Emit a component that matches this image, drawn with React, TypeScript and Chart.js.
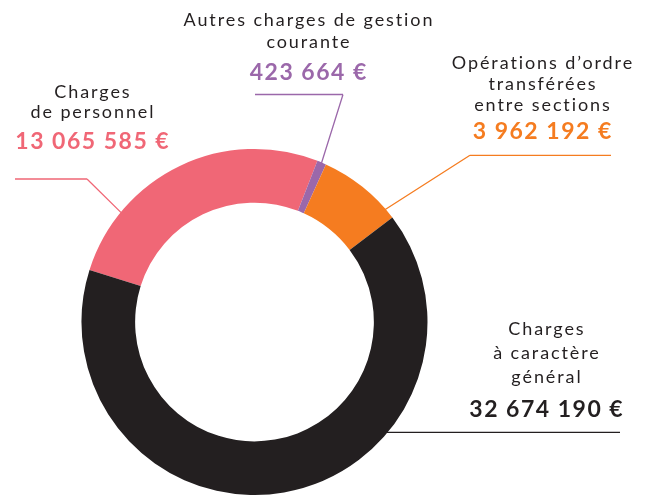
import React, { useEffect, useRef } from "react";
import { Chart, registerables } from "chart.js";

Chart.register(...registerables);

const categories = [
  "Charges de personnel",
  "Autres charges de gestion courante",
  "Opérations d’ordre transférées entre sections",
  "Charges à caractère général",
];
const values = [13065585, 423664, 3962192, 32674190];
const valueLabels = ["13 065 585 €", "423 664 €", "3 962 192 €", "32 674 190 €"];
const labelLines = [
  ["Charges", "de personnel"],
  ["Autres charges de gestion", "courante"],
  ["Opérations d’ordre", "transférées", "entre sections"],
  ["Charges", "à caractère", "général"],
];
const colors = ["#F06776", "#9B68AA", "#F57C20", "#231F20"];

const TEXT_COLOR = "#231F20";
const REG_FONT = "18px Lato";
const BOLD_FONT = "bold 23px Lato";
const REG_SPACING = 1.9;
const BOLD_SPACING = 1.5;

// layout of annotations (positions only)
const layout = [
  { cx: 92, baselines: [97.7, 118.3], valueBase: 149, hy: 179, hx1: 15, hx2: 87, elbowX: 87, frac: 0.233 },
  { cx: 308, baselines: [25.7, 47.5], valueBase: 79.5, hy: 94.5, hx1: 255, hx2: 343, elbowX: 343, frac: 0.5 },
  { cx: 542, baselines: [68.5, 89.5, 110.5], valueBase: 139.3, hy: 155.3, hx1: 470, hx2: 611, elbowX: 470, frac: 0.875 },
  { cx: 546, baselines: [335, 359, 383], valueBase: 417, hy: null, hx1: null, hx2: 620, elbowX: null, frac: 0.328 },
];

const annotationPlugin = {
  id: "annotations",
  afterDraw(chart: any) {
    const ctx = chart.ctx as CanvasRenderingContext2D;
    const meta = chart.getDatasetMeta(0);
    ctx.save();
    ctx.textAlign = "center";
    ctx.textBaseline = "alphabetic";
    layout.forEach((L, i) => {
      const arc = meta.data[i] as any;
      const a = arc.startAngle + (arc.endAngle - arc.startAngle) * L.frac;
      const R = arc.outerRadius - 0.5;
      const px = arc.x + R * Math.cos(a);
      const py = arc.y + R * Math.sin(a);
      // leader line
      ctx.strokeStyle = colors[i];
      ctx.lineWidth = 1.3;
      ctx.beginPath();
      if (L.hy === null) {
        ctx.moveTo(px, py);
        ctx.lineTo(L.hx2, py);
      } else {
        ctx.moveTo(px, py);
        ctx.lineTo(L.elbowX as number, L.hy);
        ctx.moveTo(L.hx1 as number, L.hy);
        ctx.lineTo(L.hx2, L.hy);
      }
      ctx.stroke();
      // text
      ctx.fillStyle = TEXT_COLOR;
      ctx.font = REG_FONT;
      (ctx as any).letterSpacing = REG_SPACING + "px";
      labelLines[i].forEach((t, j) => {
        ctx.fillText(t, L.cx + REG_SPACING / 2, L.baselines[j]);
      });
      ctx.fillStyle = colors[i];
      ctx.font = BOLD_FONT;
      (ctx as any).letterSpacing = BOLD_SPACING + "px";
      ctx.fillText(valueLabels[i], L.cx + BOLD_SPACING / 2, L.valueBase);
    });
    ctx.restore();
  },
};

export default function App() {
  const ref = useRef<HTMLCanvasElement>(null);
  useEffect(() => {
    if (!ref.current) return;
    const chart = new Chart(ref.current, {
      type: "doughnut",
      data: {
        labels: categories,
        datasets: [
          {
            data: values,
            backgroundColor: colors,
            borderWidth: 0,
            hoverOffset: 0,
            offset: 0,
          },
        ],
      },
      options: {
        responsive: false,
        animation: false,
        cutout: "69%",
        rotation: -72.5,
        layout: { padding: { left: 81, right: 221, top: 149, bottom: 0 } },
        plugins: { legend: { display: false }, tooltip: { enabled: false } },
        events: [],
      },
      plugins: [annotationPlugin],
    });
    return () => chart.destroy();
  }, []);
  return (
    <div style={{ position: "fixed", left: 0, top: 0, width: 649, height: 495, background: "#fff", overflow: "hidden" }}>
      <canvas ref={ref} width={649} height={495} style={{ display: "block" }} />
    </div>
  );
}
